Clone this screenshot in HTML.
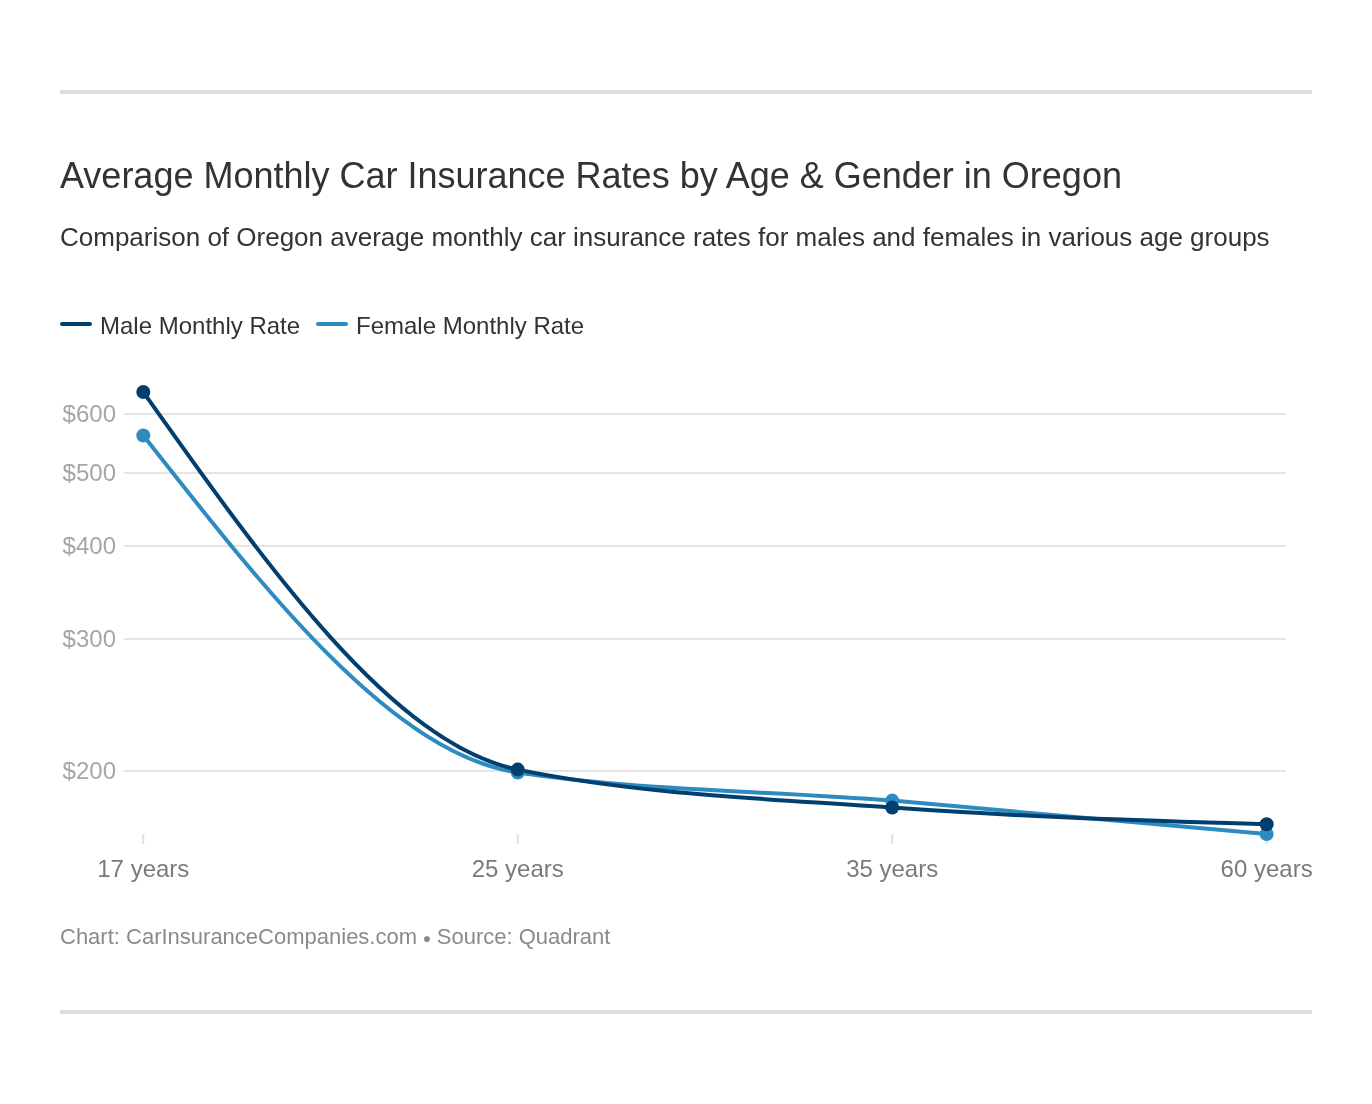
<!DOCTYPE html>
<html><head><meta charset="utf-8"><title>Average Monthly Car Insurance Rates by Age &amp; Gender in Oregon</title>
<style>
html,body{margin:0;padding:0;background:#fff;}
body{width:1372px;height:1104px;position:relative;overflow:hidden;font-family:"Liberation Sans",Arial,sans-serif;}
.rule{position:absolute;left:60px;width:1252px;height:4px;background:#dedede;}
.t{position:absolute;left:60px;white-space:nowrap;margin:0;font-weight:normal;}
h1.t{top:155px;font-size:36px;line-height:42px;color:#333;}
p.sub{top:222px;font-size:26px;line-height:30px;color:#333;}
.leg{position:absolute;top:312px;font-size:24px;line-height:28px;color:#333;white-space:nowrap;}
.key{position:absolute;top:322px;width:32px;height:4px;border-radius:2px;}
p.foot{top:924px;font-size:22px;line-height:26px;color:#8a8a8a;}
svg{position:absolute;left:0;top:0;font-family:"Liberation Sans",Arial,sans-serif;}
.dot{font-size:14px;position:relative;top:-1px;margin:0 -0.5px 0 -0.5px}
</style></head><body>
<div class="rule" style="top:90px"></div>
<h1 class="t">Average Monthly Car Insurance Rates by Age &amp; Gender in Oregon</h1>
<p class="t sub">Comparison of Oregon average monthly car insurance rates for males and females in various age groups</p>
<div class="key" style="left:60px;background:#003f6e"></div><div class="leg" style="left:100px">Male Monthly Rate</div>
<div class="key" style="left:316px;background:#2e8bc0"></div><div class="leg" style="left:356px">Female Monthly Rate</div>
<svg width="1372" height="1104" viewBox="0 0 1372 1104">
<line x1="124" x2="1286" y1="414" y2="414" stroke="#e5e5e5" stroke-width="2"/>
<text x="116" y="422" text-anchor="end" font-size="24" fill="#a6a6a6">$600</text>
<line x1="124" x2="1286" y1="473" y2="473" stroke="#e5e5e5" stroke-width="2"/>
<text x="116" y="481" text-anchor="end" font-size="24" fill="#a6a6a6">$500</text>
<line x1="124" x2="1286" y1="546" y2="546" stroke="#e5e5e5" stroke-width="2"/>
<text x="116" y="554" text-anchor="end" font-size="24" fill="#a6a6a6">$400</text>
<line x1="124" x2="1286" y1="639" y2="639" stroke="#e5e5e5" stroke-width="2"/>
<text x="116" y="647" text-anchor="end" font-size="24" fill="#a6a6a6">$300</text>
<line x1="124" x2="1286" y1="771" y2="771" stroke="#e5e5e5" stroke-width="2"/>
<text x="116" y="778.6" text-anchor="end" font-size="24" fill="#a6a6a6">$200</text>
<line x1="143.3" x2="143.3" y1="834" y2="844" stroke="#e0e0e0" stroke-width="2"/>
<text x="143.3" y="877" text-anchor="middle" font-size="24" fill="#7a7a7a">17 years</text>
<line x1="517.75" x2="517.75" y1="834" y2="844" stroke="#e0e0e0" stroke-width="2"/>
<text x="517.75" y="877" text-anchor="middle" font-size="24" fill="#7a7a7a">25 years</text>
<line x1="892.2" x2="892.2" y1="834" y2="844" stroke="#e0e0e0" stroke-width="2"/>
<text x="892.2" y="877" text-anchor="middle" font-size="24" fill="#7a7a7a">35 years</text>
<line x1="1266.65" x2="1266.65" y1="834" y2="844" stroke="#e0e0e0" stroke-width="2"/>
<text x="1266.65" y="877" text-anchor="middle" font-size="24" fill="#7a7a7a">60 years</text>
<path d="M143.30,435.50C268.12,594.63,392.93,753.77,517.75,772.50C642.57,791.23,767.38,790.35,892.20,800.60C1017.02,810.85,1141.83,822.43,1266.65,834.00" fill="none" stroke="#2e8bc0" stroke-width="4" stroke-linecap="round" stroke-linejoin="round"/>
<path d="M143.30,392.00C268.12,568.13,392.93,744.27,517.75,769.60C642.57,794.93,767.38,798.50,892.20,807.60C1017.02,816.70,1141.83,820.45,1266.65,824.20" fill="none" stroke="#003f6e" stroke-width="4" stroke-linecap="round" stroke-linejoin="round"/>
<circle cx="143.3" cy="435.5" r="7" fill="#2e8bc0"/>
<circle cx="517.75" cy="772.5" r="7" fill="#2e8bc0"/>
<circle cx="892.2" cy="800.6" r="7" fill="#2e8bc0"/>
<circle cx="1266.65" cy="834" r="7" fill="#2e8bc0"/>
<circle cx="143.3" cy="392" r="7" fill="#003f6e"/>
<circle cx="517.75" cy="769.6" r="7" fill="#003f6e"/>
<circle cx="892.2" cy="807.6" r="7" fill="#003f6e"/>
<circle cx="1266.65" cy="824.2" r="7" fill="#003f6e"/>
</svg>
<p class="t foot">Chart: CarInsuranceCompanies.com <span class="dot">&#9679;</span> Source: Quadrant</p>
<div class="rule" style="top:1010px"></div>
</body></html>
